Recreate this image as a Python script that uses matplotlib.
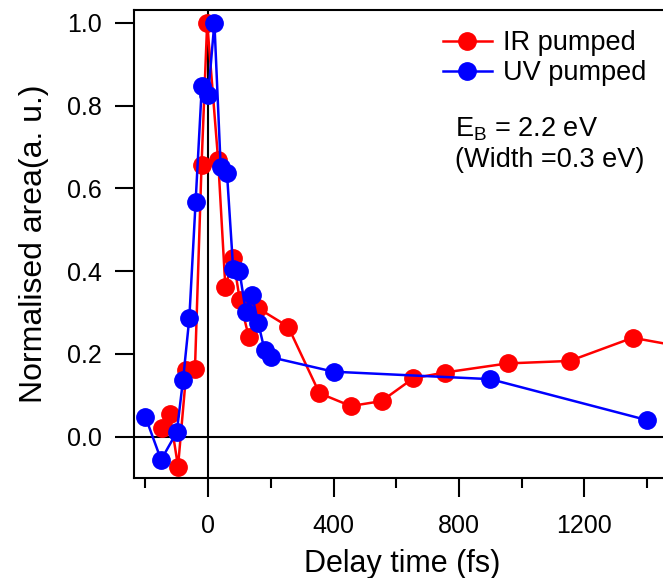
import numpy as np
import matplotlib.pyplot as plt

plt.rcParams["font.family"] = ["Liberation Sans", "DejaVu Sans"]

# IR pumped
ir_delay = [-147, -122, -96, -69, -42, -21, -3, 32, 55, 80, 101, 130, 160, 255,
            355, 455, 553, 654, 754, 955, 1153, 1354, 1550]
ir_area = [0.020, 0.054, -0.072, 0.161, 0.163, 0.656, 1.0, 0.668, 0.361, 0.431,
           0.330, 0.240, 0.310, 0.266, 0.105, 0.074, 0.086, 0.141, 0.155, 0.177,
           0.183, 0.239, 0.212]

# UV pumped
uv_delay = [-200, -150, -100, -80, -60, -40, -20, 0, 20, 40, 60, 80, 100, 120,
            140, 160, 180, 200, 400, 900, 1400]
uv_area = [0.048, -0.056, 0.011, 0.137, 0.286, 0.566, 0.848, 0.825, 1.0, 0.652,
           0.638, 0.404, 0.400, 0.302, 0.342, 0.274, 0.209, 0.192, 0.157, 0.139,
           0.040]

W, H = 663, 578
fig = plt.figure(figsize=(W / 100, H / 100), dpi=100)
left, right, top, bottom = 133.5, 670, 10, 478.3
ax = fig.add_axes([left / W, (H - bottom) / H, (right - left) / W, (bottom - top) / H])

ax.axhline(0, color='k', lw=1.5, zorder=1)
ax.axvline(0, color='k', lw=1.5, zorder=1)

ax.plot(ir_delay, ir_area, '-o', color='#ff0000', lw=1.8, ms=12.5, label='IR pumped', zorder=2)
ax.plot(uv_delay, uv_area, '-o', color='#0000ff', lw=1.8, ms=12.5, label='UV pumped', zorder=3)

ax.set_xlim(-238, 1473)
ax.set_ylim(-0.1005, 1.0307)
ax.set_xticks([0, 400, 800, 1200])
ax.set_xticks([-200, 200, 600, 1000, 1400], minor=True)
ax.set_yticks(np.arange(0, 1.01, 0.2))
ax.set_yticklabels(['0.0', '0.2', '0.4', '0.6', '0.8', '1.0'])

ax.tick_params(which='major', direction='out', length=13.5, width=1.5, labelsize=18, pad=9)
ax.tick_params(axis='x', which='major', pad=12)
ax.tick_params(which='minor', direction='out', length=7, width=1.5)
for s in ax.spines.values():
    s.set_linewidth(1.5)

ax.set_xlabel('Delay time (fs)', fontsize=22, labelpad=8)
ax.set_ylabel('Normalised area(a. u.)', fontsize=23, labelpad=13)

leg = ax.legend(loc='upper left', bbox_to_anchor=(443 / W, 1 - 30 / H),
                bbox_transform=fig.transFigure, frameon=False, fontsize=19.5,
                handlelength=1.8, handletextpad=0.4, labelspacing=0.16,
                borderpad=0, borderaxespad=0)

fig.text(455 / W, 1 - 136 / H, '$\\mathregular{E_B}$ = 2.2 eV', fontsize=19.5, va='baseline')
fig.text(455 / W, 1 - 167 / H, '(Width =0.3 eV)', fontsize=19.5, va='baseline')

fig.savefig('out.png', dpi=100)
